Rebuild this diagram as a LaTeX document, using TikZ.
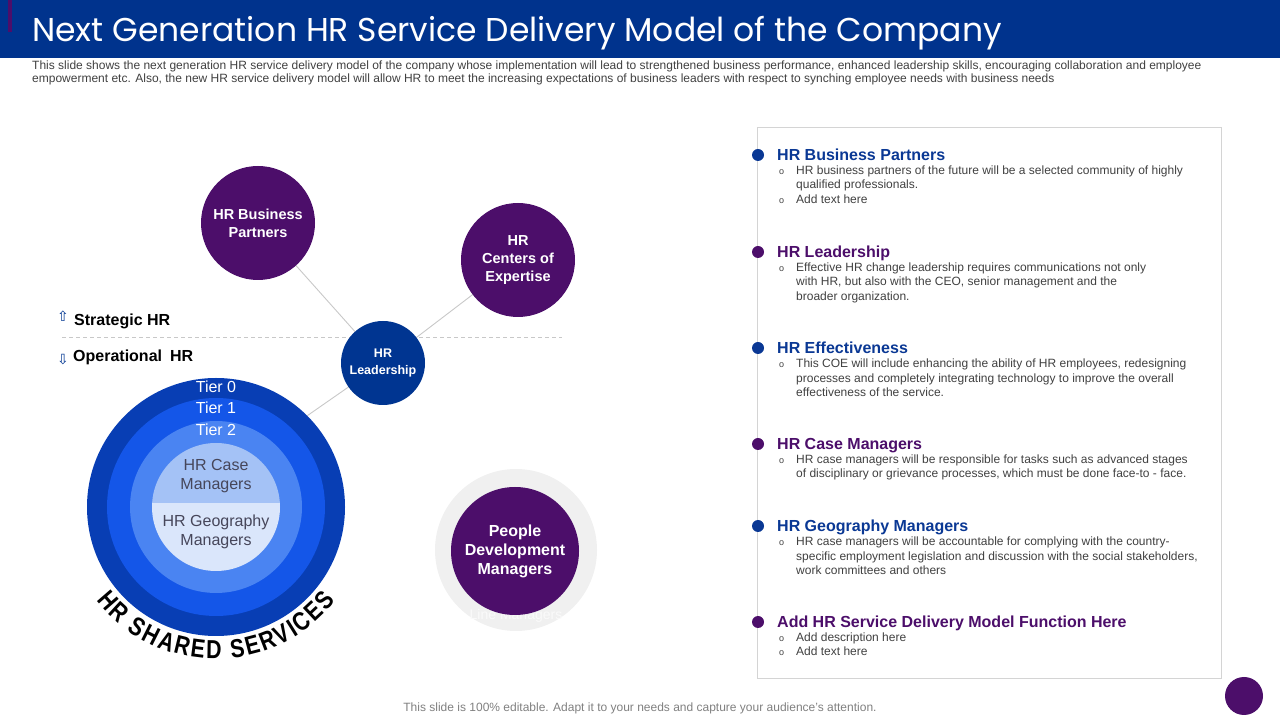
\documentclass[tikz,border=0pt]{standalone}
\usepackage{fontspec}
\setmainfont{Liberation Sans}
\newfontfamily\titlefont{Poppins}
\newfontfamily\symfont{DejaVu Sans}
\newfontfamily\archfont[FakeStretch=0.82]{Liberation Sans}
\usetikzlibrary{decorations.text,backgrounds}

\definecolor{titleblue}{RGB}{0,51,141}
\definecolor{hrpurple}{RGB}{76,14,106}
\definecolor{leadblue}{RGB}{0,53,145}
\definecolor{headblue}{RGB}{10,56,148}
\definecolor{tierzero}{RGB}{8,62,180}
\definecolor{tierone}{RGB}{20,86,232}
\definecolor{tiertwo}{RGB}{74,132,242}
\definecolor{innertop}{RGB}{164,194,246}
\definecolor{innerbot}{RGB}{218,230,251}
\definecolor{innertext}{RGB}{70,70,90}
\definecolor{bodygray}{RGB}{64,64,64}
\definecolor{footgray}{RGB}{128,128,128}
\definecolor{panelgray}{RGB}{212,212,212}
\definecolor{linkgray}{RGB}{200,200,200}
\definecolor{ringgray}{RGB}{240,240,240}
\definecolor{ringtext}{RGB}{250,250,250}

\tikzset{
  hub/.style={circle, fill=hrpurple, text=white, inner sep=0pt, align=center,
    font=\bfseries\fontsize{14.5}{18}\selectfont},
  disc/.style={circle, inner sep=0pt},
  link/.style={draw=linkgray, line width=0.9pt},
  dot/.style={circle, inner sep=0pt, minimum size=12pt},
  head/.style={anchor=base west, inner sep=0pt, font=\bfseries\fontsize{16}{19}\selectfont},
  body/.style={anchor=base west, inner sep=0pt, text=bodygray, font=\fontsize{12}{14}\selectfont},
  tier/.style={text=white, font=\fontsize{16}{19}\selectfont},
}

\begin{document}
\begin{tikzpicture}[x=1pt, y=1pt]
  \useasboundingbox (0,0) rectangle (1280,720);

  % title bar
  \fill[titleblue] (0,662) rectangle (1280,720);
  \fill[hrpurple] (8,688) rectangle (11.5,720);
  \node[anchor=base west, inner sep=0pt, text=white, font=\titlefont\fontsize{33}{38}\selectfont] (title) at (32,678)
    {Next Generation HR Service Delivery Model of the Company};
  \node[body] (sub1) at (32,650)
    {This slide shows the next generation HR service delivery model of the company whose implementation will lead to strengthened business performance, enhanced leadership skills, encouraging collaboration and employee};
  \node[body] (sub2) at (32,637)
    {empowerment etc. Also, the new HR service delivery model will allow HR to meet the increasing expectations of business leaders with respect to synching employee needs with business needs};

  % upper circles
  \node[hub, minimum size=114pt] (bp) at (258,497) {HR Business\\Partners};
  \node[hub, minimum size=114pt] (coe) at (518,460) {HR\\Centers of\\Expertise};
  \node[hub, fill=leadblue, minimum size=84pt, font=\bfseries\fontsize{12.5}{17}\selectfont] (lead) at (383,357) {HR\\Leadership};

  % strategic / operational
  \node[head] (strat) at (74,394) {Strategic HR};
  \node[head] (oper) at (73,358) {Operational\enspace HR};
  \node[text=leadblue, font=\symfont\fontsize{14}{14}\selectfont, inner sep=0pt] (up) at (63,404) {⇧};
  \node[text=leadblue, font=\symfont\fontsize{14}{14}\selectfont, inner sep=0pt] (down) at (63,360) {⇩};

  % shared services tiers
  \node[disc, fill=tierzero, minimum size=258pt] (tiers) at (216,213) {};
  \node[disc, fill=tierone, minimum size=218pt] (tier1) at (tiers.center) {};
  \node[disc, fill=tiertwo, minimum size=172pt] (tier2) at (tiers.center) {};
  \begin{scope}
    \clip (tiers.center) circle (64pt);
    \fill[innertop] (150,217) rectangle (282,280);
    \fill[innerbot] (150,146) rectangle (282,217);
  \end{scope}
  \node[tier] (t0) at (216,333) {Tier 0};
  \node[tier] (t1) at (216,312) {Tier 1};
  \node[tier] (t2) at (216,290) {Tier 2};
  \node[text=innertext, align=center, font=\fontsize{16}{19}\selectfont] (case) at (216,243.5) {HR Case\\Managers};
  \node[text=innertext, align=center, font=\fontsize{16}{19}\selectfont] (geo) at (216,188.5) {HR Geography\\Managers};
  \path[decorate, decoration={text along path, text align={fit to path},
      text={|\archfont\bfseries\fontsize{26}{26}\selectfont|HR SHARED SERVICES}}]
    (tiers.center) ++(218:152pt) arc[start angle=218, end angle=322, radius=152pt];

  % people development
  \node[disc, fill=ringgray, minimum size=162pt] (ring) at (516,170) {};
  \node[text=ringtext, font=\fontsize{14}{14}\selectfont] (linem) at (516,104) {Line Managers};
  \node[hub, minimum size=128pt, font=\bfseries\fontsize{16}{19}\selectfont] (pdm) at (515,169) {People\\Development\\Managers};

  % connectors
  \begin{pgfonlayer}{background}
    \draw[link] (bp.center) -- (lead.center);
    \draw[link] (coe.center) -- (lead.center);
    \draw[link] (lead.center) -- (tiers.45);
    \draw[draw=linkgray, dash pattern=on 4pt off 3pt] (62,383) -- (562,383);
  \end{pgfonlayer}

  % right panel
  \draw[panelgray] (757,42) rectangle (1221,593);
  \foreach \n/\y/\c/\t in {1/565/headblue/HR Business Partners, 2/468/hrpurple/HR Leadership,
      3/372/headblue/HR Effectiveness, 4/276/hrpurple/HR Case Managers,
      5/194/headblue/HR Geography Managers, 6/98/hrpurple/Add HR Service Delivery Model Function Here} {
    \node[dot, fill=\c] (dot\n) at (758,\y) {};
    \node[head, text=\c] (head\n) at (777,\y-6) {\t};
  }
  \foreach \y/\t in {545/{HR business partners of the future will be a selected community of highly},
      531/{qualified professionals.}, 516/{Add text here},
      448/{Effective HR change leadership requires communications not only},
      434/{with HR, but also with the CEO, senior management and the},
      419/{broader organization.},
      352/{This COE will include enhancing the ability of HR employees, redesigning},
      337/{processes and completely integrating technology to improve the overall},
      323/{effectiveness of the service.},
      256/{HR case managers will be responsible for tasks such as advanced stages},
      242/{of disciplinary or grievance processes, which must be done face-to - face.},
      174/{HR case managers will be accountable for complying with the country-},
      159/{specific employment legislation and discussion with the social stakeholders,},
      145/{work committees and others},
      78/{Add description here}, 64/{Add text here}} {
    \node[body] (txt\y) at (796,\y) {\t};
  }
  \foreach \y in {545,516,448,352,256,174,78,64} {
    \node[body, font=\fontsize{9}{9}\selectfont] (mark\y) at (779,\y) {o};
  }

  % footer
  \node[anchor=base, inner sep=0pt, text=footgray, font=\fontsize{12}{14}\selectfont] (foot) at (640,8)
    {This slide is 100\% editable. Adapt it to your needs and capture your audience's attention.};
  \node[disc, fill=hrpurple, minimum size=38pt] (corner) at (1244,24) {};
\end{tikzpicture}
\end{document}
